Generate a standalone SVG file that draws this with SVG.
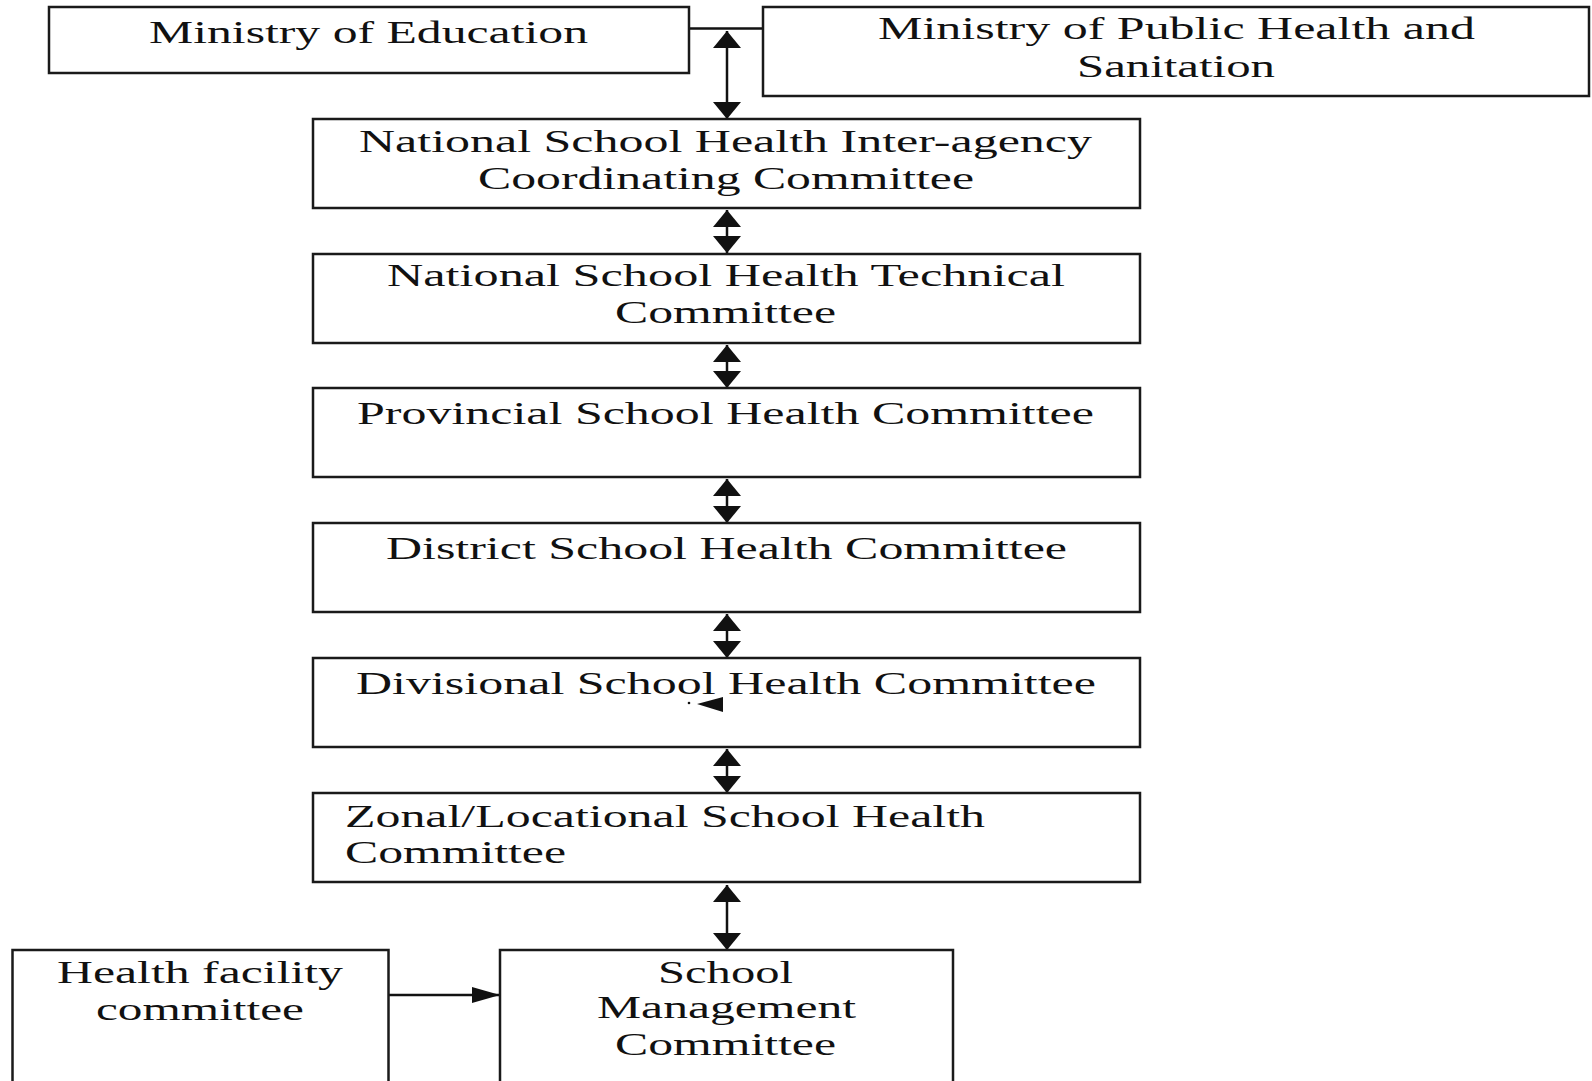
<svg xmlns="http://www.w3.org/2000/svg" width="1592" height="1081" viewBox="0 0 1592 1081">
<style>
.box{fill:#fff;stroke:#1a1a1a;stroke-width:2.5}
.lbl{font-family:"Liberation Serif","Times New Roman",serif;font-size:31px;fill:#111}
.con{stroke:#111;stroke-width:2.5;fill:none}
</style>
<defs>
<marker id="vh" markerUnits="userSpaceOnUse" markerWidth="17" markerHeight="28" refX="17" refY="14" orient="auto-start-reverse">
<path d="M0,0 L17,14 L0,28 z" fill="#111"/>
</marker>
<marker id="hh" markerUnits="userSpaceOnUse" markerWidth="28" markerHeight="16" refX="28" refY="8" orient="auto">
<path d="M0,0 L28,8 L0,16 z" fill="#111"/>
</marker>
</defs>
<rect width="1592" height="1081" fill="#fff"/>
<g id="connectors">
<line class="con" x1="689" y1="28.5" x2="763" y2="28.5"/>
<line class="con" x1="727" y1="31" x2="727" y2="119" marker-start="url(#vh)" marker-end="url(#vh)"/>
<line class="con" x1="727" y1="210" x2="727" y2="253" marker-start="url(#vh)" marker-end="url(#vh)"/>
<line class="con" x1="727" y1="345" x2="727" y2="388" marker-start="url(#vh)" marker-end="url(#vh)"/>
<line class="con" x1="727" y1="479" x2="727" y2="523" marker-start="url(#vh)" marker-end="url(#vh)"/>
<line class="con" x1="727" y1="614" x2="727" y2="658" marker-start="url(#vh)" marker-end="url(#vh)"/>
<line class="con" x1="727" y1="749" x2="727" y2="793" marker-start="url(#vh)" marker-end="url(#vh)"/>
<line class="con" x1="727" y1="885" x2="727" y2="950" marker-start="url(#vh)" marker-end="url(#vh)"/>
<line class="con" x1="389" y1="995" x2="500" y2="995" marker-end="url(#hh)"/>
</g>
<g id="moe">
<rect class="box" x="49" y="7" width="640" height="66"/>
<text class="lbl" x="149" y="43" textLength="439" lengthAdjust="spacingAndGlyphs">Ministry of Education</text>
</g>
<g id="mophs">
<rect class="box" x="763" y="7" width="826" height="89"/>
<text class="lbl" x="878" y="39" textLength="597" lengthAdjust="spacingAndGlyphs">Ministry of Public Health and</text>
<text class="lbl" x="1077" y="77" textLength="198" lengthAdjust="spacingAndGlyphs">Sanitation</text>
</g>
<g id="nshicc">
<rect class="box" x="313" y="119" width="827" height="89"/>
<text class="lbl" x="359" y="152" textLength="733" lengthAdjust="spacingAndGlyphs">National School Health Inter-agency</text>
<text class="lbl" x="478" y="189" textLength="496" lengthAdjust="spacingAndGlyphs">Coordinating Committee</text>
</g>
<g id="nshtc">
<rect class="box" x="313" y="254" width="827" height="89"/>
<text class="lbl" x="387" y="286" textLength="678" lengthAdjust="spacingAndGlyphs">National School Health Technical</text>
<text class="lbl" x="615" y="323" textLength="221" lengthAdjust="spacingAndGlyphs">Committee</text>
</g>
<g id="provincial">
<rect class="box" x="313" y="388" width="827" height="89"/>
<text class="lbl" x="357" y="424" textLength="737" lengthAdjust="spacingAndGlyphs">Provincial School Health Committee</text>
</g>
<g id="district">
<rect class="box" x="313" y="523" width="827" height="89"/>
<text class="lbl" x="386" y="559" textLength="681" lengthAdjust="spacingAndGlyphs">District School Health Committee</text>
</g>
<g id="divisional">
<rect class="box" x="313" y="658" width="827" height="89"/>
<text class="lbl" x="356" y="694" textLength="740" lengthAdjust="spacingAndGlyphs">Divisional School Health Committee</text>
<polygon points="697,704 723,697 723,712" fill="#111"/>
<circle cx="689" cy="703" r="1.3" fill="#111"/>
</g>
<g id="zonal">
<rect class="box" x="313" y="793" width="827" height="89"/>
<text class="lbl" x="345" y="827" textLength="640" lengthAdjust="spacingAndGlyphs">Zonal/Locational School Health</text>
<text class="lbl" x="345" y="863" textLength="221" lengthAdjust="spacingAndGlyphs">Committee</text>
</g>
<g id="hfc">
<rect class="box" x="12.5" y="950" width="376" height="140"/>
<text class="lbl" x="57" y="983" textLength="286" lengthAdjust="spacingAndGlyphs">Health facility</text>
<text class="lbl" x="96" y="1020" textLength="208" lengthAdjust="spacingAndGlyphs">committee</text>
</g>
<g id="smc">
<rect class="box" x="500" y="950" width="453" height="140"/>
<text class="lbl" x="658" y="983" textLength="135" lengthAdjust="spacingAndGlyphs">School</text>
<text class="lbl" x="597" y="1018" textLength="259" lengthAdjust="spacingAndGlyphs">Management</text>
<text class="lbl" x="615" y="1055" textLength="221" lengthAdjust="spacingAndGlyphs">Committee</text>
</g>
</svg>
